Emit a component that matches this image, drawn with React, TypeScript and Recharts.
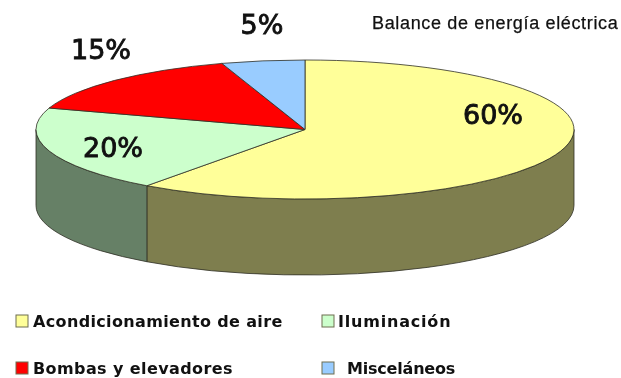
import { PieChart, Pie, Legend } from 'recharts';

const categories = ['Acondicionamiento de aire', 'Iluminación', 'Bombas y elevadores', 'Misceláneos'];
const shares = [60, 20, 15, 5];
const topColors = ['#FFFF99', '#CCFFCC', '#FF0000', '#99CCFF'];
const wallColors = ['#7E7E4E', '#668066', '#800000', '#4D6680'];

const data = categories.map((name, i) => ({ name, value: shares[i], fill: topColors[i] }));

// the pie is squashed by this ratio, and the wall hangs this far below the top
const TILT = 69.5 / 269;
const DEPTH = 76;
const CX = 305;
const CY = 129.5;

// offsets of the percent labels from the pie centre
const labelOffsets = [
  { dx: 188, dy: -15 },
  { dx: -192, dy: 18 },
  { dx: -204, dy: -80 },
  { dx: -43, dy: -105 },
];

// legend rows: left edge of swatch, top of swatch, gap to the text
const legendSlots = [
  { x: 16, y: 315, gap: 17, spacing: 0.35 },
  { x: 322, y: 315, gap: 16, spacing: 0.8 },
  { x: 16, y: 362, gap: 17, spacing: 0.4 },
  { x: 322, y: 362, gap: 25, spacing: -0.2 },
];

const rad = (deg: number) => (deg * Math.PI) / 180;

function Slice3D(props: any) {
  const { cx, cy, outerRadius, startAngle, endAngle, fill, index } = props;
  const rx = outerRadius;
  const ry = outerRadius * TILT;
  const px = (a: number) => cx + rx * Math.cos(rad(a));
  const py = (a: number) => cy - ry * Math.sin(rad(a));
  const from = Math.max(startAngle, endAngle);
  const to = Math.min(startAngle, endAngle);
  const large = from - to > 180 ? 1 : 0;

  // only the part of the rim between 0 and -180 degrees faces the viewer
  const wallFrom = Math.min(from, 0);
  const wallTo = Math.max(to, -180);
  const hasWall = wallFrom > wallTo;

  return (
    <g>
      {hasWall && (
        <path
          d={`M${px(wallFrom)},${py(wallFrom)} A${rx},${ry} 0 0 1 ${px(wallTo)},${py(wallTo)} L${px(wallTo)},${py(wallTo) + DEPTH} A${rx},${ry} 0 0 0 ${px(wallFrom)},${py(wallFrom) + DEPTH} Z`}
          fill={wallColors[index]}
          stroke="#2e2e24"
          strokeWidth={0.8}
        />
      )}
      <path
        d={`M${cx},${cy} L${px(from)},${py(from)} A${rx},${ry} 0 ${large} 1 ${px(to)},${py(to)} Z`}
        fill={fill}
        stroke="#2e2e24"
        strokeWidth={0.8}
      />
    </g>
  );
}

function PercentLabel(props: any) {
  const { index, value } = props;
  const off = labelOffsets[index];
  return (
    <text
      x={CX + off.dx}
      y={CY + off.dy}
      textAnchor="middle"
      dominantBaseline="central"
      fontFamily="'DejaVu Sans', sans-serif"
      fontSize={27}
      fill="#111"
      stroke="#111"
      strokeWidth={0.9}
    >
      {value}%
    </text>
  );
}

function LegendBlock() {
  return (
    <svg width={621} height={378} style={{ display: 'block' }}>
      {categories.map((name, i) => {
        const slot = legendSlots[i];
        return (
          <g key={name}>
            <rect x={slot.x} y={slot.y} width={12} height={12} fill={topColors[i]} stroke="#6e6e50" strokeWidth={1} />
            <text
              x={slot.x + slot.gap}
              y={slot.y + 6}
              dominantBaseline="central"
              fontFamily="'DejaVu Sans', sans-serif"
              fontWeight={700}
              fontSize={16}
              letterSpacing={slot.spacing}
              fill="#111"
            >
              {name}
            </text>
          </g>
        );
      })}
    </svg>
  );
}

export default function App() {
  return (
    <div style={{ position: 'absolute', left: 0, top: 0, width: 621, height: 378, background: '#fff', filter: 'blur(0.4px)' }}>
      <PieChart width={621} height={378} margin={{ top: 0, right: 0, bottom: 0, left: 0 }}>
        <Pie
          data={data}
          dataKey="value"
          nameKey="name"
          cx={CX}
          cy={CY}
          outerRadius={269}
          startAngle={90}
          endAngle={-270}
          stroke="none"
          shape={Slice3D}
          label={PercentLabel}
          labelLine={false}
          isAnimationActive={false}
        />
        <Legend
          content={LegendBlock}
          wrapperStyle={{ position: 'absolute', left: 0, top: 0, width: 621, height: 378, pointerEvents: 'none' }}
        />
        <text x={372} y={23} dominantBaseline="central" fontFamily="'Liberation Sans', sans-serif" fontSize={18} letterSpacing={0.65} fill="#111" stroke="#111" strokeWidth={0.25}>
          Balance de energía eléctrica
        </text>
      </PieChart>
    </div>
  );
}
